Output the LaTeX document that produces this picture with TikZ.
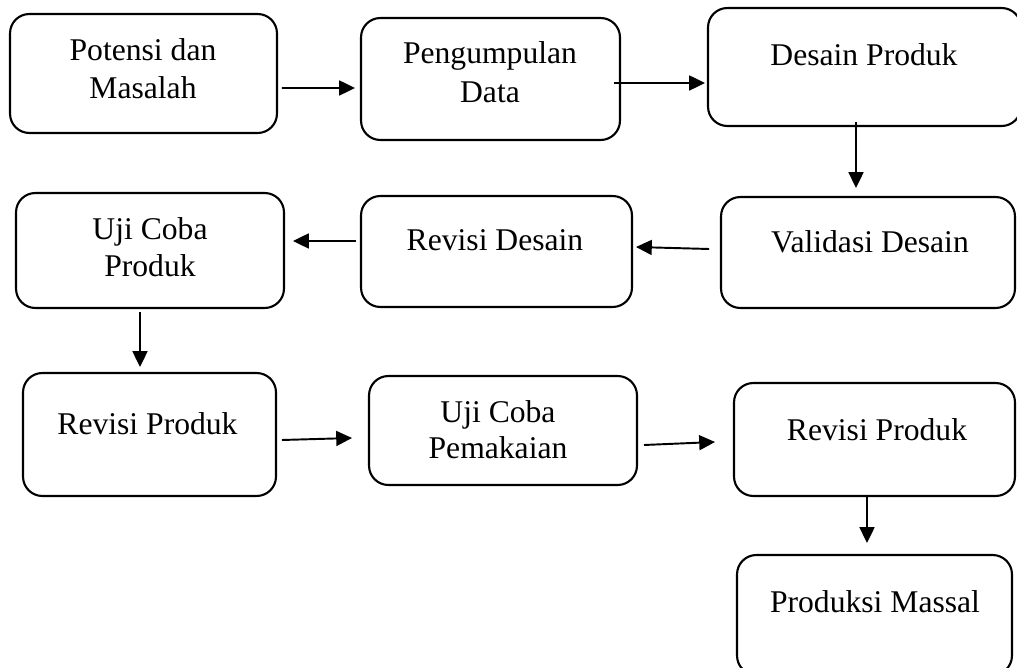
\documentclass[tikz,border=0pt]{standalone}
\usepackage{fontspec}
\setmainfont{Liberation Serif}
\usetikzlibrary{arrows.meta}
\begin{document}
\begin{tikzpicture}[x=0.02cm,y=-0.02cm,
  box/.style={draw, line width=1.2pt, rounded corners=11pt, inner sep=0pt, outer sep=0pt},
  lbl/.style={inner sep=0pt, align=center, font=\fontsize{18}{22}\selectfont},
  arr/.style={line width=1.1pt, -{Triangle[length=9pt,width=8.5pt]}}]
\useasboundingbox (0,0) rectangle (1017,668);
\clip (0,0) rectangle (1017,668);
% boxes
\node[box, minimum width=5.34cm, minimum height=2.38cm] (b1) at (143.5,73.5) {};
\node[box, minimum width=5.18cm, minimum height=2.44cm] (b2) at (490.5,79) {};
\node[box, minimum width=6.26cm, minimum height=2.36cm] (b3) at (864.5,67) {};
\node[box, minimum width=5.36cm, minimum height=2.30cm] (b4) at (150,250.5) {};
\node[box, minimum width=5.42cm, minimum height=2.22cm] (b5) at (496.5,251.5) {};
\node[box, minimum width=5.88cm, minimum height=2.22cm] (b6) at (868,252.5) {};
\node[box, minimum width=5.06cm, minimum height=2.46cm] (b7) at (149.5,434.5) {};
\node[box, minimum width=5.36cm, minimum height=2.18cm] (b8) at (503,430.5) {};
\node[box, minimum width=5.62cm, minimum height=2.26cm] (b9) at (874.5,439.5) {};
\node[box, minimum width=5.50cm, minimum height=2.40cm] (b10) at (874.5,615) {};
% labels
\node[lbl] (t1) at (143,68.6) {Potensi dan\\Masalah};
\node[lbl, font=\fontsize{18}{22.7}\selectfont] (t2) at (490,72.2) {Pengumpulan\\Data};
\node[lbl, anchor=base] (t3) at (864,66) {Desain Produk};
\node[lbl, font=\fontsize{18}{21}\selectfont] (t4) at (150,247.6) {Uji Coba\\Produk};
\node[lbl, anchor=base] (t5) at (495,251) {Revisi Desain};
\node[lbl, anchor=base] (t6) at (870,253) {Validasi Desain};
\node[lbl, anchor=base] (t7) at (147.5,435) {Revisi Produk};
\node[lbl, font=\fontsize{18}{21}\selectfont] (t8) at (498,429.7) {Uji Coba\\Pemakaian};
\node[lbl, anchor=base] (t9) at (877,440) {Revisi Produk};
\node[lbl, anchor=base] (t10) at (875,612) {Produksi Massal};
% connectors
\draw[arr] ([shift={(5,14.5)}]b1.east) -- ([shift={(-6,9)}]b2.west);
\draw[arr] ([shift={(-6,4)}]b2.east) -- ([shift={(-3,16)}]b3.west);
\draw[arr] ([shift={(-8.5,-4)}]b3.south) -- ([shift={(-12,-9)}]b6.north);
\draw[arr] ([shift={(-5,-10.5)}]b5.west) -- ([shift={(9,-9.5)}]b4.east);
\draw[arr] ([shift={(-12,-3.5)}]b6.west) -- ([shift={(4,-4.5)}]b5.east);
\draw[arr] ([shift={(-10,4)}]b4.south) -- ([shift={(-9.5,-6)}]b7.north);
\draw[arr] ([shift={(6,5.5)}]b7.east) -- ([shift={(-17,7.5)}]b8.west);
\draw[arr] ([shift={(7,14.5)}]b8.east) -- ([shift={(-19,2.5)}]b9.west);
\draw[arr] ([shift={(-7.5,1)}]b9.south) -- ([shift={(-7.5,-12)}]b10.north);
\end{tikzpicture}
\end{document}
